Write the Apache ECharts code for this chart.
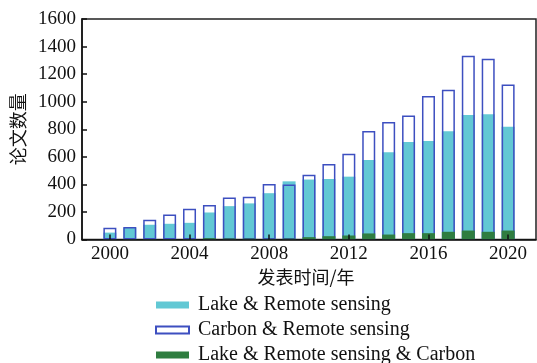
<!DOCTYPE html>
<html>
<head>
<meta charset="utf-8">
<script src="https://cdn.jsdelivr.net/npm/echarts@6/dist/echarts.min.js"></script>
<style>
  html, body { margin: 0; padding: 0; background: #fff; }
  #chart { width: 537px; height: 363px; }
</style>
</head>
<body>
<div id="chart"></div>
<script>
// Publication years
const years = [2000, 2001, 2002, 2003, 2004, 2005, 2006, 2007, 2008, 2009, 2010,
               2011, 2012, 2013, 2014, 2015, 2016, 2017, 2018, 2019, 2020];
// Papers per year for each keyword combination
const lakeRS   = [50, 85, 107, 114, 121, 196, 242, 262, 336, 422, 435,
                  439, 456, 577, 633, 708, 715, 785, 904, 909, 819];
const carbonRS = [85, 90, 143, 182, 223, 250, 305, 310, 402, 400, 470,
                  548, 623, 788, 853, 899, 1042, 1086, 1333, 1312, 1125];
const lakeRSCarbon = [2, 2, 3, 3, 4, 10, 8, 7, 5, 7, 17,
                      24, 29, 44, 36, 46, 46, 56, 65, 56, 65];
const yearTicks = [2000, 2004, 2008, 2012, 2016, 2020];
const seriesNames = ['Lake & Remote sensing', 'Carbon & Remote sensing', 'Lake & Remote sensing & Carbon'];

const pair = arr => years.map((y, i) => [y, arr[i]]);

const serif = '"Liberation Serif", "Times New Roman", serif';
const cjk = '"Noto Sans CJK SC", sans-serif';

const chart = echarts.init(document.getElementById('chart'), null, { renderer: 'canvas' });
chart.setOption({
  animation: false,
  grid: {
    left: 82, right: 1, top: 19, bottom: 123.5,
    show: true, borderColor: '#222', borderWidth: 1.5
  },
  legend: {
    orient: 'vertical',
    left: 150, top: 290,
    height: 90,
    itemWidth: 33, itemHeight: 7,
    itemGap: 5,
    icon: 'rect',
    textStyle: { fontFamily: serif, fontSize: 20, color: '#111', padding: [0, 0, 0, 4] },
    data: seriesNames
  },
  xAxis: {
    type: 'value',
    min: 1998.6, max: 2021.4,
    z: 10,
    splitLine: { show: false },
    axisLine: { lineStyle: { color: '#111', width: 1.5 } },
    axisTick: { inside: true, length: 5, customValues: yearTicks, lineStyle: { color: '#111', width: 1.5 } },
    axisLabel: { customValues: yearTicks, formatter: v => String(v), fontFamily: serif, fontSize: 19, color: '#111', margin: 5 },
    name: '发表时间/年',
    nameLocation: 'middle',
    nameGap: 28,
    nameTextStyle: { fontFamily: cjk, fontSize: 18, color: '#111', padding: [0, 6, 0, 0] }
  },
  yAxis: {
    type: 'value',
    min: 0, max: 1600, interval: 200,
    z: 10,
    splitLine: { show: false },
    axisLine: { show: true, lineStyle: { color: '#111', width: 1.5 } },
    axisTick: { inside: true, length: 5, lineStyle: { color: '#111', width: 1.5 } },
    axisLabel: { formatter: v => String(v), fontFamily: serif, fontSize: 19, color: '#111', margin: 6 },
    name: '论文数量',
    nameLocation: 'middle',
    nameGap: 48,
    nameTextStyle: { fontFamily: cjk, fontSize: 18, color: '#111' }
  },
  series: [
    {
      name: seriesNames[0], type: 'bar', barWidth: 13, barGap: '-100%', z: 2,
      itemStyle: { color: '#62c8d4' },
      data: pair(lakeRS)
    },
    {
      name: seriesNames[1], type: 'bar', barWidth: 13, barGap: '-100%', z: 3,
      itemStyle: { color: 'rgba(255,255,255,0)', borderColor: '#3d4fc0', borderWidth: 1.5 },
      data: pair(carbonRS)
    },
    {
      name: seriesNames[2], type: 'bar', barWidth: 13, barGap: '-100%', z: 4,
      itemStyle: { color: '#2f7d40' },
      data: pair(lakeRSCarbon)
    }
  ]
});
</script>
</body>
</html>
